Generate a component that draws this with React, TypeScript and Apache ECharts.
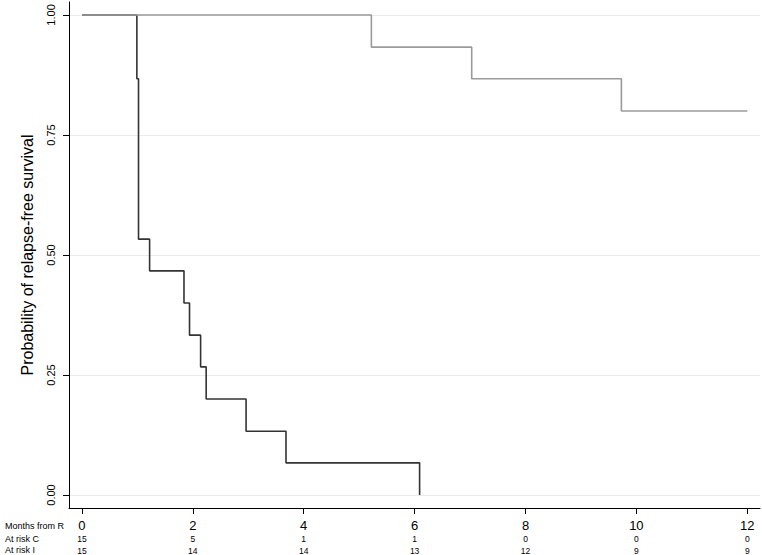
import React, { useEffect, useRef } from "react";
import * as echarts from "echarts";

// Months from randomisation (tick labels)
const monthTicks = [0, 2, 4, 6, 8, 10, 12];
const atRiskC = [15, 5, 1, 1, 0, 0, 0];
const atRiskI = [15, 14, 14, 13, 12, 9, 9];
const yTicks = [0, 0.25, 0.5, 0.75, 1.0];

// Kaplan-Meier step curves [months, survival]
const curveDark: [number, number][] = [
  [0, 1.0],
  [0.99, 0.867],
  [1.02, 0.533],
  [1.22, 0.467],
  [1.84, 0.4],
  [1.94, 0.333],
  [2.14, 0.267],
  [2.24, 0.2],
  [2.96, 0.133],
  [3.68, 0.067],
  [6.09, 0.0],
];
const curveGray: [number, number][] = [
  [0, 1.0],
  [5.22, 0.933],
  [7.03, 0.867],
  [9.73, 0.8],
  [12, 0.8],
];

const rowLabels = ["Months from R", "At risk C", "At risk I"];

const FONT = "'Liberation Sans', Arial, Helvetica, sans-serif";

export default function App() {
  const ref = useRef<HTMLDivElement>(null);
  useEffect(() => {
    if (!ref.current) return;
    const chart = echarts.init(ref.current, undefined, { renderer: "svg" });
    const option: any = {
      animation: false,
      backgroundColor: "#ffffff",
      textStyle: { fontFamily: FONT },
      grid: { left: 69, right: 2, top: 2, bottom: 46, containLabel: false },
      xAxis: {
        type: "value",
        min: -0.234,
        max: 12.23,
        axisLine: { show: true, onZero: false, lineStyle: { color: "#000", width: 1 } },
        axisTick: {
          show: true,
          length: 6,
          customValues: monthTicks,
          lineStyle: { color: "#000", width: 1 },
        },
        splitLine: { show: false },
        axisLabel: {
          customValues: monthTicks,
          margin: 10,
          fontFamily: FONT,
          formatter: (v: number) => {
            const i = monthTicks.indexOf(v);
            if (i < 0) return "";
            return `{m|${v}}\n{c|${atRiskC[i]}}\n{r|${atRiskI[i]}}`;
          },
          rich: {
            m: { fontSize: 13, lineHeight: 15, color: "#000", fontFamily: FONT },
            c: { fontSize: 8.5, lineHeight: 12, color: "#000", fontFamily: FONT },
            r: { fontSize: 8.5, lineHeight: 11, color: "#000", fontFamily: FONT },
          },
        },
      },
      yAxis: {
        type: "value",
        min: -0.027,
        max: 1.027,
        name: "Probability of relapse-free survival",
        nameLocation: "middle",
        nameGap: 34,
        nameRotate: 90,
        nameTextStyle: { fontSize: 16, color: "#000", fontFamily: FONT },
        axisLine: { show: true, onZero: false, lineStyle: { color: "#000", width: 1 } },
        axisTick: {
          show: true,
          length: 6,
          customValues: yTicks,
          lineStyle: { color: "#000", width: 1 },
        },
        splitLine: { show: true, lineStyle: { color: "#ebebeb", width: 1 } },
        axisLabel: {
          customValues: yTicks,
          rotate: 90,
          margin: 13,
          fontSize: 11,
          color: "#000",
          fontFamily: FONT,
          formatter: (v: number) => v.toFixed(2),
        },
      },
      series: [
        {
          type: "line",
          step: "end",
          data: curveDark,
          symbol: "none",
          lineStyle: { color: "#333333", width: 1.6 },
          z: 2,
        },
        {
          type: "line",
          step: "end",
          data: curveGray,
          symbol: "none",
          lineStyle: { color: "#9a9a9a", width: 1.6 },
          z: 3,
        },
      ],
      graphic: rowLabels.map((t, i) => ({
        type: "text",
        left: 5,
        top: [521, 534, 545][i],
        style: {
          text: t,
          fontSize: 9,
          fill: "#000",
          fontFamily: FONT,
        },
      })),
    };
    chart.setOption(option);
    return () => chart.dispose();
  }, []);
  return (
    <div
      ref={ref}
      style={{ position: "fixed", left: 0, top: 0, width: 762, height: 555 }}
    />
  );
}
